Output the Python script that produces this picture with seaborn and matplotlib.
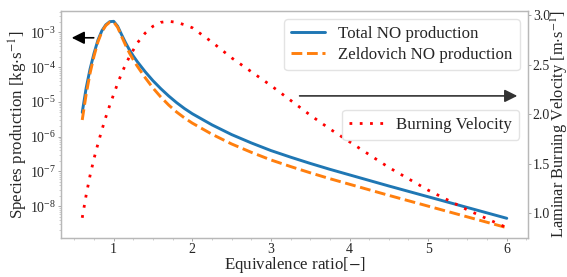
import matplotlib
matplotlib.use("Agg")
import matplotlib.pyplot as plt
from matplotlib.ticker import MultipleLocator
import seaborn as sns
import pandas as pd

# ---- data ----
phi = [0.6, 0.65, 0.7, 0.75, 0.8, 0.85, 0.9, 0.95, 1.0, 1.05, 1.1, 1.15, 1.2, 1.25, 1.3,
       1.4, 1.5, 1.6, 1.7, 1.8, 1.9, 2.0, 2.25, 2.5, 2.75, 3.0, 3.25, 3.5, 3.75, 4.0,
       4.5, 5.0, 5.5, 6.0]
# log10 of species production [kg/s]
total_no_exp = [-5.30, -4.60, -4.05, -3.60, -3.22, -2.95, -2.78, -2.69, -2.68, -2.82, -3.06,
                -3.29, -3.50, -3.68, -3.84, -4.13, -4.39, -4.62, -4.83, -5.02, -5.19, -5.34,
                -5.66, -5.94, -6.18, -6.40, -6.59, -6.77, -6.94, -7.10, -7.42, -7.73, -8.04,
                -8.35]
zeldovich_no_exp = [-5.52, -4.78, -4.17, -3.68, -3.27, -2.98, -2.80, -2.705, -2.70, -2.85,
                    -3.11, -3.36, -3.59, -3.79, -3.97, -4.30, -4.60, -4.86, -5.09, -5.29,
                    -5.46, -5.61, -5.93, -6.21, -6.45, -6.67, -6.86, -7.04, -7.21, -7.37,
                    -7.69, -8.00, -8.31, -8.62]
burning_velocity = [0.95, 1.18, 1.38, 1.55, 1.70, 1.84, 1.97, 2.09, 2.20, 2.31, 2.41, 2.50,
                    2.58, 2.65, 2.72, 2.82, 2.89, 2.93, 2.94, 2.93, 2.905, 2.875, 2.73, 2.57,
                    2.43, 2.29, 2.14, 1.99, 1.85, 1.72, 1.46, 1.23, 1.03, 0.85]
xticks = [1, 2, 3, 4, 5, 6]

df = pd.DataFrame({
    "phi": phi,
    "total": [10.0 ** e for e in total_no_exp],
    "zeld": [10.0 ** e for e in zeldovich_no_exp],
    "sl": burning_velocity,
})

sns.set_style("white")
plt.rcParams["font.family"] = ["Liberation Serif", "DejaVu Serif"]
plt.rcParams["mathtext.fontset"] = "stix"

fig = plt.figure(figsize=(5.67, 2.77), dpi=100)
ax = fig.add_axes([61 / 567, 1 - 238 / 277, 467 / 567, 227 / 277])
ax2 = ax.twinx()

sns.lineplot(data=df, x="phi", y="total", ax=ax, color="#1f77b4", lw=2.1,
             label="Total NO production")
sns.lineplot(data=df, x="phi", y="zeld", ax=ax, color="#ff7f0e", lw=2.1,
             linestyle="--", label="Zeldovich NO production")
sns.lineplot(data=df, x="phi", y="sl", ax=ax2, color="red", lw=2.0,
             linestyle=(0, (1, 2.7)), label="Burning Velocity")

ax.set_yscale("log")
ax.set_xticks(xticks)
ax.xaxis.set_minor_locator(MultipleLocator(0.25))

ax2.set_xlabel("")
ax.set_xlabel("Equivalence ratio[$-$]", fontsize=12.2)
ax.set_ylabel(r"Species production [kg$\cdot$s$^{-1}$]", fontsize=12.2)
ax2.set_ylabel(r"Laminar Burning Velocity [m$\cdot$s$^{-1}$]", fontsize=11.8)
ax.xaxis.set_label_coords(0.5, -0.074)
ax.yaxis.set_label_coords(-0.066, 0.5)
ax2.yaxis.set_label_coords(1.044, 0.5)

for a in (ax, ax2):
    for s in a.spines.values():
        s.set_color("#b8b8b8")
        s.set_linewidth(0.9)
    a.tick_params(which="major", labelsize=10, length=2.5, width=0.6, color="#999999", pad=1)
    a.tick_params(which="minor", length=1.6, width=0.5, color="#bbbbbb")
ax.tick_params(axis="x", which="both", bottom=True)
ax.tick_params(axis="y", which="both", left=True)
ax2.tick_params(axis="y", which="both", right=True)

leg1 = ax.legend(loc="upper right", fontsize=12.2, frameon=True, borderaxespad=0.5,
                 handlelength=2.0, labelspacing=0.3)
leg1.get_frame().set_edgecolor("#dddddd")
leg2 = ax2.legend(loc="upper right", bbox_to_anchor=(0.981, 0.564), borderaxespad=0,
                  fontsize=12.2, frameon=True, handlelength=2.0)
leg2.get_frame().set_edgecolor("#dddddd")

# direction arrows
ax.annotate("", xy=(0.017, 0.882), xytext=(0.076, 0.882), xycoords="axes fraction",
            arrowprops=dict(arrowstyle="-|>", color="black", lw=1.2, mutation_scale=19))
ax2.annotate("", xy=(0.983, 0.626), xytext=(0.505, 0.626), xycoords="axes fraction",
             arrowprops=dict(arrowstyle="-|>", color="#333333", lw=1.2, mutation_scale=19))

fig.savefig("out.png", dpi=100)
